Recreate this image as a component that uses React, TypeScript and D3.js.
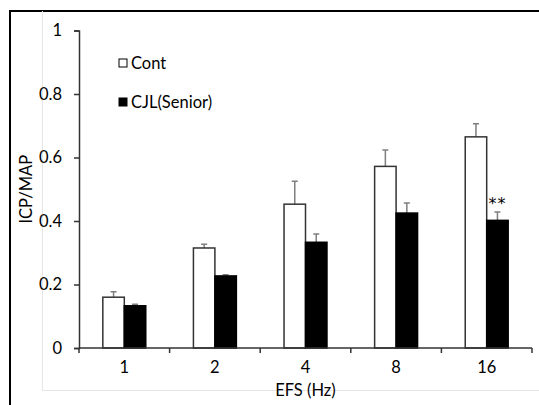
import React, { useEffect, useRef } from "react";
import * as d3 from "d3";

// EFS frequencies (Hz)
const categories = ["1", "2", "4", "8", "16"];
// ICP/MAP means
const contValues = [0.16, 0.315, 0.453, 0.572, 0.665];
const cjlValues = [0.133, 0.227, 0.333, 0.425, 0.402];
// SEM (upper error)
const contErr = [0.017, 0.012, 0.072, 0.052, 0.041];
const cjlErr = [0.005, 0.004, 0.026, 0.032, 0.026];
const yTicks = [0, 0.2, 0.4, 0.6, 0.8, 1];
const seriesNames = ["Cont", "CJL(Senior)"];

const App = () => {
  const svgRef = useRef<SVGSVGElement>(null);

  useEffect(() => {
    const svg = d3.select(svgRef.current);
    svg.selectAll("*").remove();

    const W = 539;
    const font = "Lato, 'Open Sans', sans-serif";
    const fs = "16.5px";

    // outer frame (right/bottom sides fall outside the picture)
    svg
      .append("rect")
      .attr("x", 10)
      .attr("y", 11)
      .attr("width", 600)
      .attr("height", 500)
      .attr("fill", "white")
      .attr("stroke", "black")
      .attr("stroke-width", 2);

    // faint inner box
    svg
      .append("path")
      .attr("d", `M42.5,11 V390.5 H${W}`)
      .attr("fill", "none")
      .attr("stroke", "#e6e6e6")
      .attr("stroke-width", 1);

    const left = 79;
    const right = 532;
    const top = 30.5;
    const bottom = 348;

    const x = d3.scaleBand().domain(categories).range([left, right]);
    const y = d3.scaleLinear().domain([0, 1]).range([bottom, top]);
    const barW = x.bandwidth() * 0.237;

    const g = svg.append("g");

    // bars
    const groups = [
      { vals: contValues, err: contErr, fill: "white", stroke: "#333", off: -barW },
      { vals: cjlValues, err: cjlErr, fill: "black", stroke: "black", off: 0 },
    ];

    groups.forEach((s) => {
      // error bars
      g.selectAll(null)
        .data(categories)
        .enter()
        .append("path")
        .attr("d", (c, i) => {
          const cx = x(c)! + x.bandwidth() / 2 + s.off + barW / 2;
          const y0 = y(s.vals[i]);
          const y1 = y(s.vals[i] + s.err[i]);
          return `M${cx},${y0} V${y1} M${cx - 3},${y1} H${cx + 3}`;
        })
        .attr("stroke", "#7f7f7f")
        .attr("stroke-width", 1.5)
        .attr("fill", "none");

      g.selectAll(null)
        .data(categories)
        .enter()
        .append("rect")
        .attr("x", (c) => x(c)! + x.bandwidth() / 2 + s.off)
        .attr("y", (c, i) => y(s.vals[i]))
        .attr("width", barW)
        .attr("height", (c, i) => bottom - y(s.vals[i]))
        .attr("fill", s.fill)
        .attr("stroke", s.stroke)
        .attr("stroke-width", 1.5);
    });

    // significance marker
    const last = categories[categories.length - 1];
    g.append("text")
      .attr("x", x(last)! + x.bandwidth() / 2 + barW / 2)
      .attr("y", y(cjlValues[4] + cjlErr[4]) - 3)
      .attr("text-anchor", "middle")
      .style("font-family", "'DejaVu Sans', sans-serif")
      .style("font-size", "16px")
      .style("letter-spacing", "1px")
      .text("**");

    // y axis
    const yAxis = g
      .append("g")
      .attr("transform", `translate(${left},0)`)
      .call(d3.axisLeft(y).tickValues(yTicks).tickFormat(d3.format("")).tickSizeOuter(0).tickSize(5).tickPadding(12));
    yAxis.select(".domain").attr("stroke", "#333").attr("stroke-width", 1.5);
    yAxis.selectAll(".tick line").attr("stroke", "#333").attr("stroke-width", 1.5);
    yAxis
      .selectAll("text")
      .style("font-family", font)
      .style("font-size", fs)
      .attr("fill", "black");

    // x axis
    const xAxis = g
      .append("g")
      .attr("transform", `translate(0,${bottom})`)
      .call(d3.axisBottom(x).tickSize(0).tickPadding(13));
    xAxis.select(".domain").remove();
    xAxis
      .selectAll("text")
      .style("font-family", font)
      .style("font-size", fs)
      .attr("fill", "black");
    g.append("line")
      .attr("x1", left)
      .attr("x2", right)
      .attr("y1", bottom)
      .attr("y2", bottom)
      .attr("stroke", "#333")
      .attr("stroke-width", 1.5);
    g.selectAll(null)
      .data([...categories.map((c) => x(c)!), right])
      .enter()
      .append("line")
      .attr("x1", (d) => d)
      .attr("x2", (d) => d)
      .attr("y1", bottom)
      .attr("y2", bottom + 5)
      .attr("stroke", "#333")
      .attr("stroke-width", 1.5);

    // axis titles
    g.append("text")
      .attr("x", (left + right) / 2)
      .attr("y", 396)
      .attr("text-anchor", "middle")
      .style("font-family", font)
      .style("font-size", fs)
      .text("EFS (Hz)");

    g.append("text")
      .attr("transform", `translate(32,${(top + bottom) / 2}) rotate(-90)`)
      .attr("text-anchor", "middle")
      .style("font-family", font)
      .style("font-size", fs)
      .text("ICP/MAP");

    // legend
    const legend = g.append("g");
    seriesNames.forEach((name, i) => {
      const ly = 63 + i * 39;
      legend
        .append("rect")
        .attr("x", 119)
        .attr("y", ly - 4)
        .attr("width", 8)
        .attr("height", 8)
        .attr("fill", i === 0 ? "white" : "black")
        .attr("stroke", "black")
        .attr("stroke-width", 1);
      legend
        .append("text")
        .attr("x", 131)
        .attr("y", ly + 6)
        .style("font-family", font)
        .style("font-size", fs)
        .text(name);
    });
  }, []);

  return (
    <svg
      ref={svgRef}
      width={539}
      height={405}
      style={{ position: "absolute", left: 0, top: 0, background: "white" }}
    ></svg>
  );
};

export default App;
